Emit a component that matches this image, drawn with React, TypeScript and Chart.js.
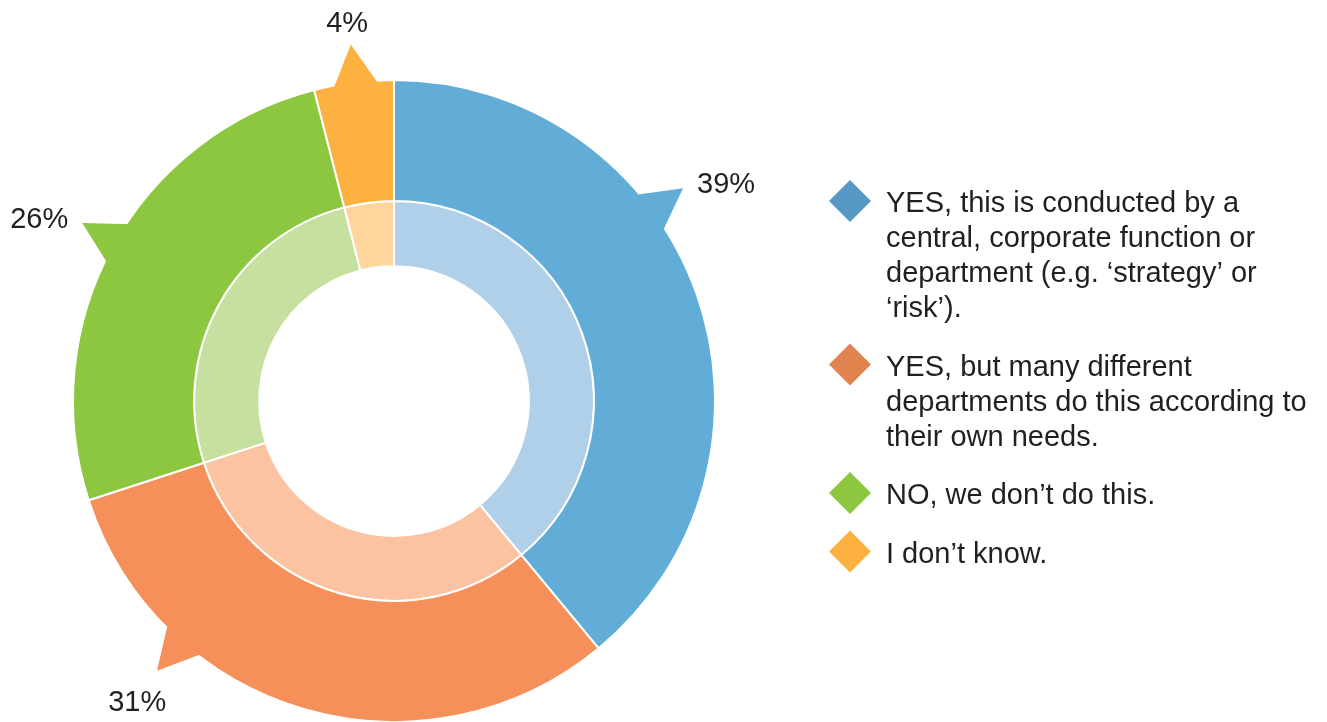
import React, { useEffect, useRef } from "react";
import { Chart, registerables } from "chart.js";

Chart.register(...registerables);

// ---- data ----
const categories: string[][] = [
  ["YES, this is conducted by a", "central, corporate function or", "department (e.g. \u2018strategy\u2019 or", "\u2018risk\u2019)."],
  ["YES, but many different", "departments do this according to", "their own needs."],
  ["NO, we don\u2019t do this."],
  ["I don\u2019t know."],
];
const outerValues: number[] = [39, 31, 26, 4];
const innerValues: number[] = [39, 31, 26, 4];

// ---- styles ----
const outerColors = ["#62ADD8", "#F6905A", "#8DC63F", "#FDB141"];
const innerColors = ["#B0D0EA", "#FCC3A2", "#C6E09F", "#FED59C"];
const legendColors = ["#5599C4", "#E1834F", "#8DC63F", "#FDB141"];
const FONT_FAMILY = "'Liberation Sans', Arial, Helvetica, sans-serif";
const TEXT_COLOR = "#231F20";

const calloutPlugin = {
  id: "callouts",
  afterDatasetsDraw(chart: any, _args: any, opts: any) {
    const meta = chart.getDatasetMeta(0);
    const ctx: CanvasRenderingContext2D = chart.ctx;
    const values = chart.data.datasets[0].data;
    ctx.save();
    meta.data.forEach((arc: any, i: number) => {
      const { x, y, startAngle, endAngle, outerRadius } = arc.getProps(
        ["x", "y", "startAngle", "endAngle", "outerRadius"],
        true
      );
      const mid = startAngle + (endAngle - startAngle) * opts.positions[i];
      const half = (opts.halfWidthDeg * Math.PI) / 180;
      const rIn = outerRadius - 6;
      const rTip = outerRadius + opts.length;
      const tipX = x + rTip * Math.cos(mid);
      const tipY = y + rTip * Math.sin(mid);
      ctx.beginPath();
      ctx.moveTo(x + rIn * Math.cos(mid - half), y + rIn * Math.sin(mid - half));
      ctx.lineTo(tipX, tipY);
      ctx.lineTo(x + rIn * Math.cos(mid + half), y + rIn * Math.sin(mid + half));
      ctx.closePath();
      ctx.fillStyle = arc.options.backgroundColor;
      ctx.fill();

      // value label
      const ux = Math.cos(mid);
      const uy = Math.sin(mid);
      const text = `${values[i]}%`;
      ctx.font = opts.font;
      ctx.fillStyle = opts.color;
      ctx.textBaseline = "alphabetic";
      if (Math.abs(ux) >= Math.abs(uy)) {
        ctx.textAlign = ux > 0 ? "left" : "right";
        ctx.fillText(text, tipX + (ux > 0 ? 1 : -1) * opts.gap, tipY + 5);
      } else {
        ctx.textAlign = "center";
        const lx = tipX + ux * 30;
        const ly = uy > 0 ? tipY + 40 : tipY - 13;
        ctx.fillText(text, lx, ly);
      }
    });
    ctx.restore();
  },
};

const diamondLegendPlugin = {
  id: "diamondLegend",
  afterDraw(chart: any, _args: any, opts: any) {
    const ctx: CanvasRenderingContext2D = chart.ctx;
    const labels: string[][] = chart.data.labels;
    ctx.save();
    ctx.font = opts.font;
    ctx.textBaseline = "alphabetic";
    ctx.textAlign = "left";
    let y = opts.top;
    labels.forEach((lines, i) => {
      const cx = opts.markerX;
      const cy = y - opts.markerLift;
      const h = opts.markerHalf;
      ctx.fillStyle = opts.colors[i];
      ctx.beginPath();
      ctx.moveTo(cx, cy - h);
      ctx.lineTo(cx + h, cy);
      ctx.lineTo(cx, cy + h);
      ctx.lineTo(cx - h, cy);
      ctx.closePath();
      ctx.fill();
      ctx.fillStyle = opts.color;
      lines.forEach((line, j) => {
        ctx.fillText(line, opts.textX, y + j * opts.lineHeight);
      });
      y += (lines.length - 1) * opts.lineHeight + opts.itemGap;
    });
    ctx.restore();
  },
};

export default function App() {
  const canvasRef = useRef<HTMLCanvasElement | null>(null);

  useEffect(() => {
    if (!canvasRef.current) return;
    const chart = new Chart(canvasRef.current, {
      type: "doughnut",
      data: {
        labels: categories as any,
        datasets: [
          {
            data: outerValues,
            backgroundColor: outerColors,
            borderColor: "#FFFFFF",
            borderWidth: 2,
            weight: 121,
          } as any,
          {
            data: innerValues,
            backgroundColor: innerColors,
            borderColor: "#FFFFFF",
            borderWidth: 2,
            weight: 65,
          } as any,
        ],
      },
      options: {
        responsive: false,
        animation: false,
        radius: 321,
        cutout: "42%",
        layout: { padding: { left: 0, right: 539, top: 80, bottom: 0 } },
        plugins: {
          legend: { display: false },
          tooltip: { enabled: false },
          callouts: {
            positions: [0.382, 0.725, 0.51, 0.52],
            halfWidthDeg: 4.4,
            length: 38,
            gap: 14,
            font: `29px ${FONT_FAMILY}`,
            color: TEXT_COLOR,
          },
          diamondLegend: {
            top: 212,
            lineHeight: 35,
            itemGap: 58.5,
            markerX: 850,
            markerLift: 11,
            markerHalf: 21,
            textX: 886,
            colors: legendColors,
            font: `29px ${FONT_FAMILY}`,
            color: TEXT_COLOR,
          },
        } as any,
      } as any,
      plugins: [calloutPlugin, diamondLegendPlugin],
    });
    return () => chart.destroy();
  }, []);

  return (
    <div style={{ position: "fixed", left: 0, top: 0, width: 1327, height: 722, background: "#FFFFFF" }}>
      <canvas ref={canvasRef} width={1327} height={722} style={{ display: "block", width: 1327, height: 722 }} />
    </div>
  );
}
